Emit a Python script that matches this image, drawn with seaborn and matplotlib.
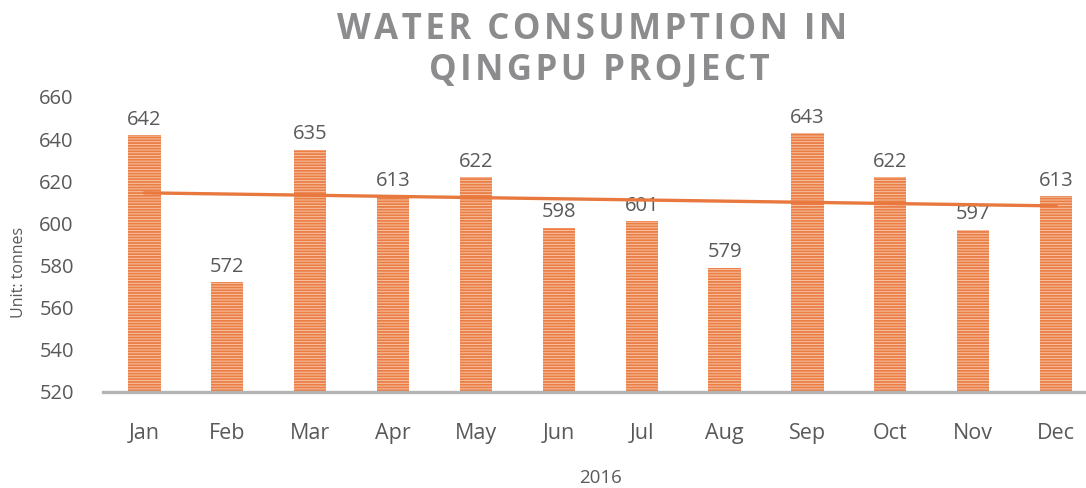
import numpy as np
import pandas as pd
import matplotlib
matplotlib.use("Agg")
import matplotlib.pyplot as plt
import seaborn as sns

months = ["Jan", "Feb", "Mar", "Apr", "May", "Jun", "Jul", "Aug", "Sep", "Oct", "Nov", "Dec"]
consumption = [642, 572, 635, 613, 622, 598, 601, 579, 643, 622, 597, 613]
y_ticks = [520, 540, 560, 580, 600, 620, 640, 660]

sns.set_style("white")
plt.rcParams['font.family'] = ['Open Sans', 'DejaVu Sans']
plt.rcParams['hatch.linewidth'] = 1.3

df = pd.DataFrame({"Month": months, "Water": consumption})

fig = plt.figure(figsize=(10.86, 4.88), dpi=100)
ax = fig.add_axes([103 / 1086, 96 / 488, 994.5 / 1086, 295 / 488])

sns.barplot(data=df, x="Month", y="Water", color="#F7C3A4", saturation=1,
            width=0.39, edgecolor="#EA7E45", linewidth=0, hatch="------", ax=ax)

# linear trend line over the months
xs = np.arange(len(months))
k, b = np.polyfit(xs, consumption, 1)
ax.plot(xs, k * xs + b, color="#E8783E", linewidth=2.4, zorder=5)

for i, v in enumerate(consumption):
    ax.text(i, v + 2.5, str(v), ha="center", va="bottom", fontsize=14.5, color="#595959")

ax.set_ylim(520, 660)
ax.set_yticks(y_ticks)
ax.set_xlim(-0.5, len(months) - 0.5)
ax.tick_params(axis="y", length=0, pad=21, labelsize=14.5, labelcolor="#595959")
ax.tick_params(axis="x", length=0, pad=22, labelsize=15.5, labelcolor="#595959")
for s in ["left", "right", "top"]:
    ax.spines[s].set_visible(False)
ax.spines["bottom"].set_color("#B4B4B4")
ax.spines["bottom"].set_linewidth(2.4)
ax.set_xlabel("")
ax.set_ylabel("")

fig.text(19 / 1086, 1 - 272 / 488, "Unit: tonnes", rotation=90, ha="center", va="center",
         fontsize=11.5, color="#595959")
fig.text(600 / 1086, 1 - 478 / 488, "2016", ha="center", va="center", fontsize=13.5, color="#595959")

title1 = "\u200a".join("WATER CONSUMPTION IN")
title2 = "\u200a".join("QINGPU PROJECT")
fig.text(592 / 1086, 1 - 30 / 488, title1, ha="center", va="center", fontsize=25,
         fontweight="bold", color="#8C8C8E")
fig.text(599 / 1086, 1 - 71 / 488, title2, ha="center", va="center", fontsize=25,
         fontweight="bold", color="#8C8C8E")

fig.savefig("out.png", dpi=100)
